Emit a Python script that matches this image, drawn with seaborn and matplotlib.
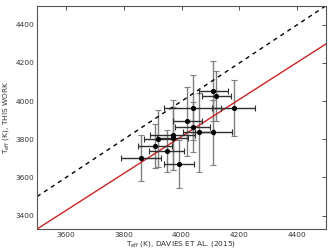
import matplotlib
matplotlib.use('Agg')
import matplotlib.pyplot as plt
import seaborn as sns

# Teff comparison data
teff_davies = [3860, 3909, 3920, 3949, 3969, 3969, 3991, 4020, 4038, 4038, 4059, 4110, 4110, 4120, 4180]
teff_davies_err = [70, 58, 50, 60, 79, 55, 51, 50, 100, 60, 55, 65, 50, 50, 75]
teff_this = [3702, 3765, 3803, 3739, 3822, 3806, 3669, 3894, 3965, 3866, 3836, 3836, 4053, 4027, 3964]
teff_this_err = [120, 115, 150, 110, 185, 165, 125, 180, 170, 130, 205, 170, 155, 130, 146]

one_to_one = [3500, 4500]
fit_line = [3330, 4300]

sns.set_style('white')
plt.rcParams['font.family'] = ['DejaVu Sans']

fig = plt.figure(figsize=(3.34, 2.5), dpi=100)
ax = fig.add_axes([0.111, 0.084, 0.865, 0.893])

# vertical error bars (greyish), then horizontal ones (darker)
ax.errorbar(teff_davies, teff_this, yerr=teff_this_err, fmt='none', ecolor='#808080',
            elinewidth=1, capsize=2, capthick=0.8, zorder=2)
ax.errorbar(teff_davies, teff_this, xerr=teff_davies_err, fmt='none', ecolor='#303030',
            elinewidth=1, capsize=2, capthick=0.8, zorder=2.5)
sns.scatterplot(x=teff_davies, y=teff_this, ax=ax, color='k', s=14, edgecolor='k',
                linewidth=0, zorder=3)
sns.lineplot(x=one_to_one, y=one_to_one, ax=ax, color='k', linestyle=(0, (3, 3)), lw=1)
sns.lineplot(x=one_to_one, y=fit_line, ax=ax, color='#cc2222', lw=1)

ax.set_xlim(3500, 4500)
ax.set_ylim(3330, 4500)
ax.set_xticks([3600, 3800, 4000, 4200, 4400])
ax.set_yticks([3400, 3600, 3800, 4000, 4200, 4400])
ax.tick_params(direction='in', top=True, right=True, labelsize=5.3, length=3, width=0.6,
               pad=2, colors='#333333')
ax.set_xlabel(r'T$_{\rm eff}$ (K), DAVIES ET AL. (2015)', fontsize=5.3, labelpad=1, color='#333333')
ax.set_ylabel(r'T$_{\rm eff}$ (K), THIS WORK', fontsize=5.3, labelpad=3, color='#333333')
for s in ax.spines.values():
    s.set_color('#555555')
    s.set_linewidth(0.8)

fig.savefig('out.png', dpi=100)
